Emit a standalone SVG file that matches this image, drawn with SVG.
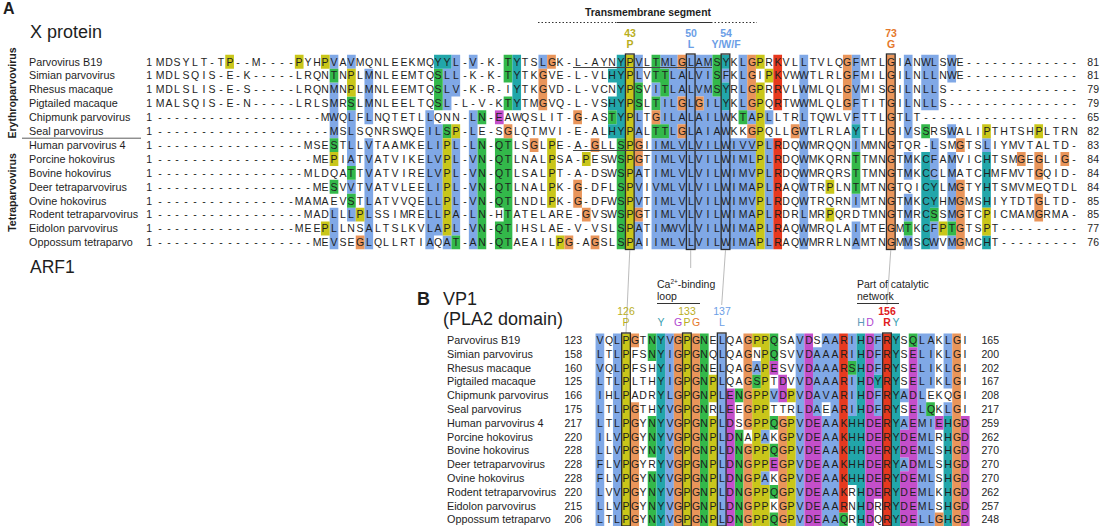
<svg xmlns="http://www.w3.org/2000/svg" width="1104" height="526" viewBox="0 0 1104 526">
<style>
text{font-family:"Liberation Sans",Arial,Helvetica,sans-serif;fill:#1e1e1e}
.nm{font-size:10.8px}
.sq{font-size:10.5px;text-anchor:middle}
.ne{font-size:10.5px;text-anchor:end}
.bl{fill:#80a8e6}.gr{fill:#33b84a}.te{fill:#22a6aa}.ye{fill:#c9c61a}.or{fill:#e9955a}.rd{fill:#e6391f}.mg{fill:#c44fca}
.box{fill:none;stroke:#2b2b2b;stroke-width:1.3}
.lnk{stroke:#aaaaaa;stroke-width:0.8;fill:none}
.lab{font-size:10.5px;font-weight:bold;text-anchor:middle}
</style>

<g id="panelA-title">
<text x="3" y="14" style="font-size:16px;font-weight:bold">A</text>
<text x="30" y="38" style="font-size:18px">X protein</text>
<text x="30" y="273" style="font-size:17.5px">ARF1</text>
<text transform="translate(16 93) rotate(-90)" style="font-size:10.5px;font-weight:bold;text-anchor:middle">Erythroparvovirus</text>
<text transform="translate(16 192.5) rotate(-90)" style="font-size:10.5px;font-weight:bold;text-anchor:middle">Tetraparvovirus</text>
<line x1="22" y1="138.2" x2="141" y2="138.2" stroke="#333" stroke-width="0.8"/>
</g>

<g id="tm-annotation">
<text x="648" y="16" style="font-size:10.4px;font-weight:bold;text-anchor:middle">Transmembrane segment</text>
<line x1="538" y1="22.5" x2="617" y2="22.5" stroke="#333" stroke-width="1" stroke-dasharray="1.5 2"/>
<line x1="711" y1="22.5" x2="757" y2="22.5" stroke="#333" stroke-width="1" stroke-dasharray="1.5 2"/>
<line x1="617" y1="22.5" x2="711" y2="22.5" stroke="#333" stroke-width="1.2"/>
<text class="lab" x="630" y="37" fill="#b9ae1c" style="fill:#b9ae1c">43</text>
<text class="lab" x="630" y="48" style="fill:#b9ae1c">P</text>
<text class="lab" x="691" y="37" style="fill:#6b9ee6">50</text>
<text class="lab" x="691" y="48" style="fill:#6b9ee6">L</text>
<text class="lab" x="726" y="37" style="fill:#6b9ee6">54</text>
<text class="lab" x="726" y="48" style="fill:#6b9ee6">Y/W/F</text>
<text class="lab" x="891" y="37" style="fill:#e5782b">73</text>
<text class="lab" x="891" y="48" style="fill:#e5782b">G</text>
</g>

<g id="panelA-colors" transform="translate(155.65 54.75) scale(8.7 13.9)">
<path class="bl" d="M20 0h1v1h-1zM20 2h1v4h-1zM20 11h1v3h-1zM22 0h1v1h-1zM22 4h1v4h-1zM22 9h1v1h-1zM22 11h1v1h-1zM24 1h1v4h-1zM24 6h1v8h-1zM31 4h1v10h-1zM32 5h1v8h-1zM33 1h1v3h-1zM33 13h1v1h-1zM34 0h1v3h-1zM34 6h1v7h-1zM36 0h1v1h-1zM36 4h1v10h-1zM44 0h1v1h-1zM55 0h1v2h-1zM55 4h1v2h-1zM55 8h1v3h-1zM55 12h1v2h-1zM57 6h12v8h-12zM57 2h1v1h-1zM58 0h1v1h-1zM58 3h1v2h-1zM59 0h1v6h-1zM60 1h1v2h-1zM60 4h1v1h-1zM61 0h1v6h-1zM62 0h1v3h-1zM62 4h1v2h-1zM63 0h1v6h-1zM64 3h1v3h-1zM65 1h1v1h-1zM65 4h1v2h-1zM67 0h1v4h-1zM68 4h1v1h-1zM70 4h1v1h-1zM70 6h1v8h-1zM74 0h1v14h-1zM80 0h1v5h-1zM80 6h1v1h-1zM80 10h1v1h-1zM80 12h1v2h-1zM86 0h1v6h-1zM86 7h1v2h-1zM86 10h1v2h-1zM86 13h1v1h-1zM88 0h2v4h-2zM89 6h1v3h-1zM89 12h1v2h-1zM91 0h1v2h-1zM91 5h1v1h-1zM91 7h1v5h-1zM91 13h1v1h-1zM95 6h1v1h-1z"/>
<path class="gr" d="M20 1h1v1h-1zM20 6h1v1h-1zM20 9h1v1h-1zM22 3h1v1h-1zM22 8h1v1h-1zM22 10h1v1h-1zM32 1h1v3h-1zM33 5h1v1h-1zM34 13h1v1h-1zM37 4h1v1h-1zM37 6h1v8h-1zM39 6h1v5h-1zM39 12h1v2h-1zM40 0h1v2h-1zM40 3h1v1h-1zM40 6h1v8h-1zM52 4h1v1h-1zM53 6h1v8h-1zM55 2h1v2h-1zM57 0h1v2h-1zM57 3h1v1h-1zM57 5h1v1h-1zM58 1h1v2h-1zM58 5h1v1h-1zM64 0h1v3h-1zM67 4h1v1h-1zM80 7h1v3h-1zM86 12h1v1h-1zM88 5h1v1h-1zM89 11h1v1h-1zM91 12h1v1h-1z"/>
<path class="te" d="M32 0h2v1h-2zM41 0h1v4h-1zM52 1h1v1h-1zM52 3h1v1h-1zM52 5h1v1h-1zM53 0h1v6h-1zM65 0h1v1h-1zM65 2h1v2h-1zM80 5h1v1h-1zM88 7h1v7h-1zM89 9h1v2h-1zM95 7h1v4h-1zM95 13h1v1h-1z"/>
<path class="ye" d="M8 0h1v1h-1zM16 0h1v1h-1zM19 0h1v1h-1zM19 12h1v1h-1zM20 7h1v1h-1zM22 1h1v2h-1zM23 11h1v1h-1zM33 6h1v7h-1zM34 5h1v1h-1zM45 6h1v5h-1zM46 13h1v1h-1zM49 7h1v1h-1zM54 0h1v14h-1zM69 0h1v1h-1zM69 2h1v12h-1zM70 1h1v1h-1zM77 9h1v1h-1zM77 11h1v1h-1zM90 12h1v1h-1zM95 5h1v1h-1zM95 11h1v2h-1zM101 5h1v1h-1z"/>
<path class="or" d="M23 13h1v1h-1zM40 5h1v1h-1zM43 6h1v1h-1zM44 1h1v3h-1zM45 0h1v1h-1zM47 13h1v1h-1zM48 4h1v1h-1zM48 9h1v2h-1zM49 11h1v1h-1zM50 6h1v1h-1zM50 13h1v1h-1zM55 6h1v2h-1zM55 11h1v1h-1zM57 4h1v1h-1zM60 0h1v1h-1zM60 3h1v1h-1zM60 5h1v1h-1zM62 3h1v1h-1zM68 0h1v4h-1zM68 5h1v1h-1zM73 5h1v1h-1zM79 0h1v4h-1zM84 0h1v14h-1zM92 6h1v1h-1zM92 9h1v5h-1zM99 7h1v1h-1zM101 7h1v2h-1zM101 10h1v2h-1zM104 7h1v1h-1z"/>
<path class="rd" d="M71 0h1v4h-1zM71 6h1v8h-1z"/>
<path class="mg" d="M39 4h1v1h-1z"/>
</g>

<g id="panelA-boxes">
<rect class="box" x="625.45" y="54" width="8.7" height="195.5"/>
<rect class="box" x="686.35" y="54" width="8.7" height="195.5"/>
<rect class="box" x="721.15" y="54" width="8.7" height="195.5"/>
<rect class="box" x="886.45" y="54" width="8.7" height="195.5"/>
<line x1="573" y1="67.5" x2="712" y2="67.5" stroke="#444" stroke-width="1.2"/>
<line x1="573" y1="150.5" x2="757" y2="150.5" stroke="#444" stroke-width="1.2"/>
</g>

<g id="panelA-rows">
<text class="nm" x="29" y="65.5">Parvovirus B19</text>
<text class="nm" x="29" y="79.4">Simian parvovirus</text>
<text class="nm" x="29" y="93.3">Rhesus macaque</text>
<text class="nm" x="29" y="107.2">Pigtailed macaque</text>
<text class="nm" x="29" y="121.1">Chipmunk parvovirus</text>
<text class="nm" x="29" y="135">Seal parvovirus</text>
<text class="nm" x="29" y="148.9">Human parvovirus 4</text>
<text class="nm" x="29" y="162.8">Porcine hokovirus</text>
<text class="nm" x="29" y="176.7">Bovine hokovirus</text>
<text class="nm" x="29" y="190.6">Deer tetraparvovirus</text>
<text class="nm" x="29" y="204.5">Ovine hokovirus</text>
<text class="nm" x="29" y="218.4">Rodent tetraparvovirus</text>
<text class="nm" x="29" y="232.3">Eidolon parvovirus</text>
<text class="nm" x="29" y="246.2">Oppossum tetraparvo</text>
<g class="ne">
<text class="ne" x="152" y="65.5">1</text><text class="ne" x="152" y="79.4">1</text><text class="ne" x="152" y="93.3">1</text><text class="ne" x="152" y="107.2">1</text><text class="ne" x="152" y="121.1">1</text><text class="ne" x="152" y="135">1</text><text class="ne" x="152" y="148.9">1</text><text class="ne" x="152" y="162.8">1</text><text class="ne" x="152" y="176.7">1</text><text class="ne" x="152" y="190.6">1</text><text class="ne" x="152" y="204.5">1</text><text class="ne" x="152" y="218.4">1</text><text class="ne" x="152" y="232.3">1</text><text class="ne" x="152" y="246.2">1</text>
<text class="ne" x="1099" y="65.5">81</text><text class="ne" x="1099" y="79.4">81</text><text class="ne" x="1099" y="93.3">79</text><text class="ne" x="1099" y="107.2">79</text><text class="ne" x="1099" y="121.1">65</text><text class="ne" x="1099" y="135">82</text><text class="ne" x="1099" y="148.9">83</text><text class="ne" x="1099" y="162.8">84</text><text class="ne" x="1099" y="176.7">84</text><text class="ne" x="1099" y="190.6">84</text><text class="ne" x="1099" y="204.5">85</text><text class="ne" x="1099" y="218.4">85</text><text class="ne" x="1099" y="232.3">77</text><text class="ne" x="1099" y="246.2">76</text>
</g>
<text class="sq" y="65.5" x="160 169 177 186 195 204 212 221 230 238 247 256 264 273 282 291 299 308 317 325 334 343 351 360 369 378 386 395 404 412 421 430 438 447 456 465 473 482 491 499 508 517 525 534 543 552 560 569 578 586 595 604 612 621 630 639 647 656 665 673 682 691 699 708 717 726 734 743 752 760 769 778 786 795 804 813 821 830 839 847 856 865 873 882 891 900 908 917 926 934 943 952 960 969 978 987 995 1004 1013 1021 1030 1039 1047 1056 1065 1074">MDSYLT-TP--M----PYHPVAVMQNLEEKMQYYL-V-K-TYTSLGK-L-AYNYPVLTMLGLAMSYKLGPRKVLLTVLQGFMTLGIANWLSWE-------------</text>
<text class="sq" y="79.4" x="160 169 177 186 195 204 212 221 230 238 247 256 264 273 282 291 299 308 317 325 334 343 351 360 369 378 386 395 404 412 421 430 438 447 456 465 473 482 491 499 508 517 525 534 543 552 560 569 578 586 595 604 612 621 630 639 647 656 665 673 682 691 699 708 717 726 734 743 752 760 769 778 786 795 804 813 821 830 839 847 856 865 873 882 891 900 908 917 926 934 943 952 960 969 978 987 995 1004 1013 1021 1030 1039 1047 1056 1065 1074">MDLSQIS-E-K-----LRQNTNPLMNLEEMTQSLL-K-K-TYTKGVE-L-VLHYPLVTTLALVISFKLGIPKVWWTLRLGFMILGILNLLNWE-------------</text>
<text class="sq" y="93.3" x="160 169 177 186 195 204 212 221 230 238 247 256 264 273 282 291 299 308 317 325 334 343 351 360 369 378 386 395 404 412 421 430 438 447 456 465 473 482 491 499 508 517 525 534 543 552 560 569 578 586 595 604 612 621 630 639 647 656 665 673 682 691 699 708 717 726 734 743 752 760 769 778 786 795 804 813 821 830 839 847 856 865 873 882 891 900 908 917 926 934 943 952 960 969 978 987 995 1004 1013 1021 1030 1039 1047 1056 1065 1074">MDLSLIS-E-S-----LRQNMNPLMNLEEMTQSLV-K-R-IYTKGVD-L-VCNYPSVITLALVMSYRLGPRRVLWMLQLGVMISGILNLLS---------------</text>
<text class="sq" y="107.2" x="160 169 177 186 195 204 212 221 230 238 247 256 264 273 282 291 299 308 317 325 334 343 351 360 369 378 386 395 404 412 421 430 438 447 456 465 473 482 491 499 508 517 525 534 543 552 560 569 578 586 595 604 612 621 630 639 647 656 665 673 682 691 699 708 717 726 734 743 752 760 769 778 786 795 804 813 821 830 839 847 856 865 873 882 891 900 908 917 926 934 943 952 960 969 978 987 995 1004 1013 1021 1030 1039 1047 1056 1065 1074">MALSQIS-E-N-----LRLSMRSLMNLEELTQSL-L-V-KTYTMGVQ-L-VSHYPSLTILGLGILYKLGPQRTWWMLQLGFTITGILNLLS---------------</text>
<text class="sq" y="121.1" x="160 169 177 186 195 204 212 221 230 238 247 256 264 273 282 291 299 308 317 325 334 343 351 360 369 378 386 395 404 412 421 430 438 447 456 465 473 482 491 499 508 517 525 534 543 552 560 569 578 586 595 604 612 621 630 639 647 656 665 673 682 691 699 708 717 726 734 743 752 760 769 778 786 795 804 813 821 830 839 847 856 865 873 882 891 900 908 917 926 934 943 952 960 969 978 987 995 1004 1013 1021 1030 1039 1047 1056 1065 1074">-------------------MWQLFLNQTETLLQNN-LN-EAWQSLIT-G-ASTYPLTGILALAILWKTAPLLTRLTQWLVFTTLGTLT------------------</text>
<text class="sq" y="135" x="160 169 177 186 195 204 212 221 230 238 247 256 264 273 282 291 299 308 317 325 334 343 351 360 369 378 386 395 404 412 421 430 438 447 456 465 473 482 491 499 508 517 525 534 543 552 560 569 578 586 595 604 612 621 630 639 647 656 665 673 682 691 699 708 717 726 734 743 752 760 769 778 786 795 804 813 821 830 839 847 856 865 873 882 891 900 908 917 926 934 943 952 960 969 978 987 995 1004 1013 1021 1030 1039 1047 1056 1065 1074">--------------------MSLSQNRSWQEILSP-LE-SGLQTMVI-E-ALHYPALTTLGLAIAWKKGPQLLGWTLRLAYTILGIVSSRSWALIPTHTSHPLTRN</text>
<text class="sq" y="148.9" x="160 169 177 186 195 204 212 221 230 238 247 256 264 273 282 291 299 308 317 325 334 343 351 360 369 378 386 395 404 412 421 430 438 447 456 465 473 482 491 499 508 517 525 534 543 552 560 569 578 586 595 604 612 621 630 639 647 656 665 673 682 691 699 708 717 726 734 743 752 760 769 778 786 795 804 813 821 830 839 847 856 865 873 882 891 900 908 917 926 934 943 952 960 969 978 987 995 1004 1013 1021 1030 1039 1047 1056 1065 1074">-----------------MSESTLLVTAAMKELIPL-LN-QTLSGLPE-A-GLLSPGIIMLVLVILWIVVPLRDQWMRQQNIMMNGTQR-LSMGTSLIYMVTALTD-</text>
<text class="sq" y="162.8" x="160 169 177 186 195 204 212 221 230 238 247 256 264 273 282 291 299 308 317 325 334 343 351 360 369 378 386 395 404 412 421 430 438 447 456 465 473 482 491 499 508 517 525 534 543 552 560 569 578 586 595 604 612 621 630 639 647 656 665 673 682 691 699 708 717 726 734 743 752 760 769 778 786 795 804 813 821 830 839 847 856 865 873 882 891 900 908 917 926 934 943 952 960 969 978 987 995 1004 1013 1021 1030 1039 1047 1056 1065 1074">------------------MEPIATVATVIKELVPL-VN-QTLNALPSA-PESWSPGTIMLVLVILWIMLPLRDQWMKQRNTTMNGTMKCFAMVICHTSMGEGLIG-</text>
<text class="sq" y="176.7" x="160 169 177 186 195 204 212 221 230 238 247 256 264 273 282 291 299 308 317 325 334 343 351 360 369 378 386 395 404 412 421 430 438 447 456 465 473 482 491 499 508 517 525 534 543 552 560 569 578 586 595 604 612 621 630 639 647 656 665 673 682 691 699 708 717 726 734 743 752 760 769 778 786 795 804 813 821 830 839 847 856 865 873 882 891 900 908 917 926 934 943 952 960 969 978 987 995 1004 1013 1021 1030 1039 1047 1056 1065 1074">-----------------MLDQATTVATVIRELVPL-VN-QTLSALPT-A-DSWSPATIMLVLVILWIMVPLRDQWMRQRSTTMNGTMKCCLMATCHMFMVTGQID-</text>
<text class="sq" y="190.6" x="160 169 177 186 195 204 212 221 230 238 247 256 264 273 282 291 299 308 317 325 334 343 351 360 369 378 386 395 404 412 421 430 438 447 456 465 473 482 491 499 508 517 525 534 543 552 560 569 578 586 595 604 612 621 630 639 647 656 665 673 682 691 699 708 717 726 734 743 752 760 769 778 786 795 804 813 821 830 839 847 856 865 873 882 891 900 908 917 926 934 943 952 960 969 978 987 995 1004 1013 1021 1030 1039 1047 1056 1065 1074">------------------MESVVTVATVLEELIPL-VN-QTLNALPK-G-DFLSPVIVMLVLVILWIMAPLRAQWTRPLNTMTNGTQICYLMGTYHTSMVMEQTDL</text>
<text class="sq" y="204.5" x="160 169 177 186 195 204 212 221 230 238 247 256 264 273 282 291 299 308 317 325 334 343 351 360 369 378 386 395 404 412 421 430 438 447 456 465 473 482 491 499 508 517 525 534 543 552 560 569 578 586 595 604 612 621 630 639 647 656 665 673 682 691 699 708 717 726 734 743 752 760 769 778 786 795 804 813 821 830 839 847 856 865 873 882 891 900 908 917 926 934 943 952 960 969 978 987 995 1004 1013 1021 1030 1039 1047 1056 1065 1074">----------------MAMAEVSTLATVVQELLPL-VN-QTLNDLPK-G-DFWSPVTIMLVLVILWIMVPLRDQWTRQRNIMTNGTMKCYHMGMSHIYTDTGLTD-</text>
<text class="sq" y="218.4" x="160 169 177 186 195 204 212 221 230 238 247 256 264 273 282 291 299 308 317 325 334 343 351 360 369 378 386 395 404 412 421 430 438 447 456 465 473 482 491 499 508 517 525 534 543 552 560 569 578 586 595 604 612 621 630 639 647 656 665 673 682 691 699 708 717 726 734 743 752 760 769 778 786 795 804 813 821 830 839 847 856 865 873 882 891 900 908 917 926 934 943 952 960 969 978 987 995 1004 1013 1021 1030 1039 1047 1056 1065 1074">-----------------MADLLLPLSSIMRELLPA-LN-HTATELARE-GVSWSPGTIMLVLVILWIMAPLRDRLMRPQRDTMNGTMRCSSMGTCPICMAMGRMA-</text>
<text class="sq" y="232.3" x="160 169 177 186 195 204 212 221 230 238 247 256 264 273 282 291 299 308 317 325 334 343 351 360 369 378 386 395 404 412 421 430 438 447 456 465 473 482 491 499 508 517 525 534 543 552 560 569 578 586 595 604 612 621 630 639 647 656 665 673 682 691 699 708 717 726 734 743 752 760 769 778 786 795 804 813 821 830 839 847 856 865 873 882 891 900 908 917 926 934 943 952 960 969 978 987 995 1004 1013 1021 1030 1039 1047 1056 1065 1074">----------------MEEPLLNSALTSLKVLAPL-VN-QTIHSLAE-V-VSLSPATIMWVLVILWIMAPLRAQWMRQLAIMTEGMTKCFPTGTSPT---------</text>
<text class="sq" y="246.2" x="160 169 177 186 195 204 212 221 230 238 247 256 264 273 282 291 299 308 317 325 334 343 351 360 369 378 386 395 404 412 421 430 438 447 456 465 473 482 491 499 508 517 525 534 543 552 560 569 578 586 595 604 612 621 630 639 647 656 665 673 682 691 699 708 717 726 734 743 752 760 769 778 786 795 804 813 821 830 839 847 856 865 873 882 891 900 908 917 926 934 943 952 960 969 978 987 995 1004 1013 1021 1030 1039 1047 1056 1065 1074">------------------MEVSEGLQLLRTIAQAT-AN-QTAEAILPG-AGSLSPAIIMLVLVILWIMAPLRAQWMRRLNAMTNGMMSCWVMGMCHT---------</text>
</g>

<g id="connectors">
<line class="lnk" x1="629.8" y1="250" x2="626" y2="333"/>
<line class="lnk" x1="690.7" y1="250" x2="690.7" y2="268"/>
<line class="lnk" x1="725.5" y1="250" x2="721.7" y2="305"/>
<line class="lnk" x1="890.8" y1="250" x2="887" y2="305"/>
</g>

<g id="panelB-title">
<text x="417" y="305" style="font-size:18px;font-weight:bold">B</text>
<text x="443" y="305" style="font-size:18px">VP1</text>
<text x="443" y="325" style="font-size:18px">(PLA2 domain)</text>
<text x="657" y="288" style="font-size:10.5px">Ca<tspan style="font-size:6.5px" dy="-4">2+</tspan><tspan dy="4">-binding</tspan></text>
<text x="657" y="299.5" style="font-size:10.5px">loop</text>
<line x1="657" y1="303.5" x2="700" y2="303.5" stroke="#333" stroke-width="1"/>
<text x="857" y="288" style="font-size:10.5px">Part of catalytic</text>
<text x="857" y="299.5" style="font-size:10.5px">network</text>
<line x1="857" y1="303.5" x2="899" y2="303.5" stroke="#333" stroke-width="1"/>
<text x="626" y="315" style="font-size:10.5px;text-anchor:middle;fill:#b9ae1c">126</text>
<text x="626" y="326" style="font-size:10.5px;text-anchor:middle;fill:#b9ae1c">P</text>
<text x="661" y="326" style="font-size:10.5px;text-anchor:middle;fill:#3aa0b0">Y</text>
<text x="687" y="315" style="font-size:10.5px;text-anchor:middle;fill:#b9ae1c">133</text>
<text x="678" y="326" style="font-size:10.5px;text-anchor:middle;fill:#b048d0">G</text>
<text x="687" y="326" style="font-size:10.5px;text-anchor:middle;fill:#b9ae1c">P</text>
<text x="696" y="326" style="font-size:10.5px;text-anchor:middle;fill:#e5782b">G</text>
<text x="722" y="315" style="font-size:10.5px;text-anchor:middle;fill:#6b9ee6">137</text>
<text x="722" y="326" style="font-size:10.5px;text-anchor:middle;fill:#6b9ee6">L</text>
<text x="861" y="326" style="font-size:10.5px;text-anchor:middle;fill:#5a9ab8">H</text>
<text x="870" y="326" style="font-size:10.5px;text-anchor:middle;fill:#b048d0">D</text>
<text x="887" y="315" style="font-size:10.5px;font-weight:bold;text-anchor:middle;fill:#e02020">156</text>
<text x="887" y="326" style="font-size:10.5px;font-weight:bold;text-anchor:middle;fill:#e02020">R</text>
<text x="896" y="326" style="font-size:10.5px;text-anchor:middle;fill:#3aa0b0">Y</text>
</g>

<g id="panelB-colors" transform="translate(595.55 333.4) scale(8.7 13.78)">
<path class="bl" d="M0 0h1v14h-1zM2 0h1v14h-1zM8 0h1v14h-1zM14 0h1v14h-1zM18 2h1v1h-1zM19 7h1v1h-1zM19 10h1v1h-1zM20 4h1v1h-1zM23 0h1v14h-1zM25 1h1v5h-1zM26 0h2v5h-2zM27 5h1v1h-1zM26 6h2v8h-2zM29 0h1v2h-1zM29 3h1v3h-1zM32 0h1v3h-1zM32 4h1v2h-1zM35 4h1v1h-1zM35 6h1v1h-1zM35 9h1v1h-1zM37 0h1v14h-1zM38 0h1v4h-1zM38 6h1v8h-1zM40 0h1v4h-1zM40 5h1v1h-1z"/>
<path class="gr" d="M6 0h1v2h-1zM6 6h1v3h-1zM6 10h1v4h-1zM12 0h1v14h-1zM16 4h1v1h-1zM16 7h1v7h-1zM18 3h1v1h-1zM20 0h1v2h-1zM20 6h1v1h-1zM20 8h1v1h-1zM20 11h1v1h-1zM20 13h1v1h-1zM28 13h1v1h-1zM29 2h1v1h-1zM36 0h1v1h-1zM38 5h1v1h-1z"/>
<path class="te" d="M7 0h1v14h-1zM29 6h1v5h-1zM30 0h1v14h-1zM32 3h1v1h-1zM34 0h1v14h-1zM40 6h1v8h-1z"/>
<path class="ye" d="M3 0h1v14h-1zM10 0h1v14h-1zM13 3h1v2h-1zM13 6h1v8h-1zM18 0h1v1h-1zM18 4h1v10h-1zM19 0h1v7h-1zM19 8h1v2h-1zM19 11h1v3h-1zM22 4h1v1h-1zM22 6h1v8h-1z"/>
<path class="or" d="M4 0h1v1h-1zM4 5h1v9h-1zM9 0h1v14h-1zM11 0h1v14h-1zM17 0h1v7h-1zM17 8h1v6h-1zM21 6h1v8h-1zM39 13h1v1h-1zM41 0h1v14h-1z"/>
<path class="rd" d="M28 0h1v13h-1zM33 0h1v14h-1z"/>
<path class="mg" d="M15 4h1v10h-1zM20 2h1v1h-1zM20 9h1v1h-1zM21 3h1v2h-1zM24 0h1v14h-1zM25 6h1v8h-1zM31 0h1v14h-1zM32 6h1v6h-1zM35 7h1v2h-1zM35 10h1v4h-1zM36 1h1v13h-1zM39 6h1v1h-1zM42 6h1v8h-1z"/>
</g>

<g id="panelB-boxes">
<rect class="box" x="621.65" y="333" width="8.7" height="193"/>
<rect class="box" x="682.55" y="333" width="8.7" height="193"/>
<rect class="box" x="717.35" y="333" width="8.7" height="193"/>
<rect class="box" x="882.65" y="333" width="8.7" height="193"/>
</g>

<g id="panelB-rows">
<text class="nm" x="447" y="344.1">Parvovirus B19</text>
<text class="nm" x="447" y="357.9">Simian parvovirus</text>
<text class="nm" x="447" y="371.7">Rhesus macaque</text>
<text class="nm" x="447" y="385.4">Pigtailed macaque</text>
<text class="nm" x="447" y="399.2">Chipmunk parvovirus</text>
<text class="nm" x="447" y="413">Seal parvovirus</text>
<text class="nm" x="447" y="426.8">Human parvovirus 4</text>
<text class="nm" x="447" y="440.6">Porcine hokovirus</text>
<text class="nm" x="447" y="454.3">Bovine hokovirus</text>
<text class="nm" x="447" y="468.1">Deer tetraparvovirus</text>
<text class="nm" x="447" y="481.9">Ovine hokovirus</text>
<text class="nm" x="447" y="495.7">Rodent tetraparvovirus</text>
<text class="nm" x="447" y="509.5">Eidolon parvovirus</text>
<text class="nm" x="447" y="523.2">Oppossum tetraparvo</text>
<text class="ne" x="582" y="344.1">123</text><text class="ne" x="582" y="357.9">158</text><text class="ne" x="582" y="371.7">160</text><text class="ne" x="582" y="385.4">125</text><text class="ne" x="582" y="399.2">166</text><text class="ne" x="582" y="413">175</text><text class="ne" x="582" y="426.8">217</text><text class="ne" x="582" y="440.6">220</text><text class="ne" x="582" y="454.3">228</text><text class="ne" x="582" y="468.1">228</text><text class="ne" x="582" y="481.9">228</text><text class="ne" x="582" y="495.7">220</text><text class="ne" x="582" y="509.5">215</text><text class="ne" x="582" y="523.2">206</text>
<text class="ne" x="999" y="344.1">165</text><text class="ne" x="999" y="357.9">200</text><text class="ne" x="999" y="371.7">202</text><text class="ne" x="999" y="385.4">167</text><text class="ne" x="999" y="399.2">208</text><text class="ne" x="999" y="413">217</text><text class="ne" x="999" y="426.8">259</text><text class="ne" x="999" y="440.6">262</text><text class="ne" x="999" y="454.3">270</text><text class="ne" x="999" y="468.1">270</text><text class="ne" x="999" y="481.9">270</text><text class="ne" x="999" y="495.7">262</text><text class="ne" x="999" y="509.5">257</text><text class="ne" x="999" y="523.2">248</text>
<text class="sq" y="344.1" x="600 609 617 626 635 643 652 661 670 678 687 696 704 713 722 730 739 748 757 765 774 783 791 800 809 817 826 835 844 852 861 870 878 887 896 904 913 922 931 939 948 957 965">VQLPGTNYVGPGNELQAGPPQSAVDSAARIHDFRYSQLAKLGI</text>
<text class="sq" y="357.9" x="600 609 617 626 635 643 652 661 670 678 687 696 704 713 722 730 739 748 757 765 774 783 791 800 809 817 826 835 844 852 861 870 878 887 896 904 913 922 931 939 948 957 965">LTLPFSNYIGPGNQLQAGNPQSVVDAAARIHDFRYSELIKLGI</text>
<text class="sq" y="371.7" x="600 609 617 626 635 643 652 661 670 678 687 696 704 713 722 730 739 748 757 765 774 783 791 800 809 817 826 835 844 852 861 870 878 887 896 904 913 922 931 939 948 957 965">VQLPFSHYIGPGNELQAGAPESVVDAAARSHDFRYSELIKLGI</text>
<text class="sq" y="385.4" x="600 609 617 626 635 643 652 661 670 678 687 696 704 713 722 730 739 748 757 765 774 783 791 800 809 817 826 835 844 852 861 870 878 887 896 904 913 922 931 939 948 957 965">LTLPLTHYIGPGNPLQAGSPTDVVDAAARIHDYRYSELIKLGI</text>
<text class="sq" y="399.2" x="600 609 617 626 635 643 652 661 670 678 687 696 704 713 722 730 739 748 757 765 774 783 791 800 809 817 826 835 844 852 861 870 878 887 896 904 913 922 931 939 948 957 965">IHLPADRYLGPGNPLENGPPVDPVDAVARIHDFRYADLEKQGI</text>
<text class="sq" y="413" x="600 609 617 626 635 643 652 661 670 678 687 696 704 713 722 730 739 748 757 765 774 783 791 800 809 817 826 835 844 852 861 870 878 887 896 904 913 922 931 939 948 957 965">LTLPGTHYVGPGNRLEEGPPTTRLDAEARIHDFRYSELQKLGI</text>
<text class="sq" y="426.8" x="600 609 617 626 635 643 652 661 670 678 687 696 704 713 722 730 739 748 757 765 774 783 791 800 809 817 826 835 844 852 861 870 878 887 896 904 913 922 931 939 948 957 965">LTLPGYNYVGPGNPLDSGPPQGPVDEAAKHHDERYAEMIEHGD</text>
<text class="sq" y="440.6" x="600 609 617 626 635 643 652 661 670 678 687 696 704 713 722 730 739 748 757 765 774 783 791 800 809 817 826 835 844 852 861 870 878 887 896 904 913 922 931 939 948 957 965">ILVPGYNYVGPGNPLDNAPAKGPVDEAAKHHDERYDEMLRHGD</text>
<text class="sq" y="454.3" x="600 609 617 626 635 643 652 661 670 678 687 696 704 713 722 730 739 748 757 765 774 783 791 800 809 817 826 835 844 852 861 870 878 887 896 904 913 922 931 939 948 957 965">LLVPGYNYVGPGNPLDNGPPQGPVDEAAKHHDERYDEMLSHGD</text>
<text class="sq" y="468.1" x="600 609 617 626 635 643 652 661 670 678 687 696 704 713 722 730 739 748 757 765 774 783 791 800 809 817 826 835 844 852 861 870 878 887 896 904 913 922 931 939 948 957 965">FLVPGYRYVGPGNPLDNGPPEGPVDEAAKHHDERYADMLSHGD</text>
<text class="sq" y="481.9" x="600 609 617 626 635 643 652 661 670 678 687 696 704 713 722 730 739 748 757 765 774 783 791 800 809 817 826 835 844 852 861 870 878 887 896 904 913 922 931 939 948 957 965">FLVPGYNYVGPGNPLDNGPAKGPVDEAAKHHDERYDEMLSHGD</text>
<text class="sq" y="495.7" x="600 609 617 626 635 643 652 661 670 678 687 696 704 713 722 730 739 748 757 765 774 783 791 800 809 817 826 835 844 852 861 870 878 887 896 904 913 922 931 939 948 957 965">LVVPGYNYVGPGNPLDNGPPQGPVDEAAKRHDERYDEMLKHGD</text>
<text class="sq" y="509.5" x="600 609 617 626 635 643 652 661 670 678 687 696 704 713 722 730 739 748 757 765 774 783 791 800 809 817 826 835 844 852 861 870 878 887 896 904 913 922 931 939 948 957 965">LLVPGYNYVGPGNPLDNGPPKGPVDEAARNHDRRYDEMLSHGD</text>
<text class="sq" y="523.2" x="600 609 617 626 635 643 652 661 670 678 687 696 704 713 722 730 739 748 757 765 774 783 791 800 809 817 826 835 844 852 861 870 878 887 896 904 913 922 931 939 948 957 965">LTLPGYNYVGPGNPLDNGPPQGPVDEAAQRHDQRYDELLGHGD</text>
</g>
</svg>
